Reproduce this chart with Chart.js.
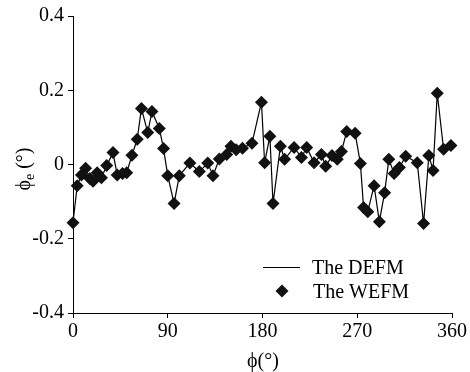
<!DOCTYPE html>
<html>
<head>
<meta charset="utf-8">
<script src="https://cdn.jsdelivr.net/npm/chart.js@4.4.1/dist/chart.umd.min.js"></script>
<style>
  html, body { margin: 0; background: #fff; }
  #wrap { width: 470px; height: 372px; }
</style>
</head>
<body>
<div id="wrap"><canvas id="chart"></canvas></div>
<script>
// angle phi (deg) and error phi_e (deg)
const angles = [0, 4, 8, 12, 16, 19, 23, 27, 32, 38, 42, 47, 51, 56, 61, 65, 71, 75, 82, 86,
  90, 96, 101, 111, 120, 128, 133, 139, 146, 150, 155, 161, 170, 179, 182, 187, 190, 197, 201,
  210, 217, 222, 229, 236, 240, 246, 251, 255, 260, 268, 273, 276, 280, 286, 291, 296, 300,
  305, 310, 316, 327, 333, 338, 342, 346, 352, 359];
const wefm = [-0.157, -0.057, -0.028, -0.01, -0.038, -0.045, -0.022, -0.036, -0.003, 0.032, -0.028,
  -0.024, -0.022, 0.025, 0.068, 0.151, 0.086, 0.143, 0.097, 0.043,
  -0.03, -0.105, -0.03, 0.004, -0.019, 0.004, -0.03, 0.015, 0.027, 0.049, 0.04, 0.044, 0.057,
  0.168, 0.005, 0.076, -0.105, 0.049, 0.014,
  0.046, 0.019, 0.046, 0.005, 0.027, -0.005, 0.024, 0.014, 0.035, 0.089, 0.084, 0.003, -0.116,
  -0.127, -0.057, -0.154, -0.076, 0.014,
  -0.024, -0.008, 0.022, 0.005, -0.159, 0.024, -0.016, 0.192, 0.041, 0.051];
const defm = wefm.slice();

const xTicks = [0, 90, 180, 270, 360];
const yTicks = [-0.4, -0.2, 0, 0.2, 0.4];

const serif = '"Liberation Serif", "Times New Roman", serif';

const toPoints = (ys) => angles.map((a, i) => ({ x: a, y: ys[i] }));

const textPlugin = {
  id: 'textPlugin',
  afterDraw(chart) {
    const c = chart.ctx;
    c.save();
    c.fillStyle = '#000';
    c.strokeStyle = '#000';

    // x title
    c.font = '20px ' + serif;
    c.textAlign = 'center';
    c.textBaseline = 'alphabetic';
    c.fillText('\u03D5(\u00B0)', 263, 367);

    // y title with subscript
    c.save();
    c.translate(30, 169);
    c.rotate(-Math.PI / 2);
    c.textAlign = 'left';
    const big = '20px ' + serif, small = '14px ' + serif;
    c.font = big;
    const w1 = c.measureText('\u03D5').width;
    const w3 = c.measureText(' (\u00B0)').width;
    c.font = small;
    const w2 = c.measureText('e').width;
    let x = -(w1 + w2 + w3) / 2;
    c.font = big;
    c.fillText('\u03D5', x, 0);
    x += w1;
    c.font = small;
    c.fillText('e', x, 4);
    x += w2;
    c.font = big;
    c.fillText(' (\u00B0)', x, 0);
    c.restore();

    // legend
    c.font = '20px ' + serif;
    c.textAlign = 'left';
    c.lineWidth = 1.2;
    c.beginPath();
    c.moveTo(263, 267.5);
    c.lineTo(300, 267.5);
    c.stroke();
    c.fillText('The DEFM', 312, 274);
    const r = 6.5, cx = 282, cy = 291;
    c.fillStyle = '#111';
    c.beginPath();
    c.moveTo(cx - r, cy);
    c.lineTo(cx, cy - r);
    c.lineTo(cx + r, cy);
    c.lineTo(cx, cy + r);
    c.closePath();
    c.fill();
    c.fillStyle = '#000';
    c.fillText('The WEFM', 313, 298);
    c.restore();
  }
};

new Chart(document.getElementById('chart'), {
  type: 'scatter',
  data: {
    datasets: [
      {
        label: 'The DEFM',
        data: toPoints(defm),
        showLine: true,
        borderColor: '#000',
        borderWidth: 1.2,
        pointRadius: 0,
        tension: 0,
        clip: false,
        order: 2
      },
      {
        label: 'The WEFM',
        data: toPoints(wefm),
        showLine: false,
        pointStyle: 'rectRot',
        pointRadius: 6.5,
        backgroundColor: '#111',
        borderColor: '#111',
        borderWidth: 0,
        clip: false,
        order: 1
      }
    ]
  },
  options: {
    responsive: true,
    maintainAspectRatio: false,
    animation: false,
    layout: { padding: { top: 16, right: 18, bottom: 0, left: 0 } },
    plugins: {
      legend: { display: false },
      tooltip: { enabled: false }
    },
    scales: {
      x: {
        type: 'linear',
        min: 0,
        max: 360,
        afterBuildTicks: (s) => { s.ticks = xTicks.map(v => ({ value: v })); },
        afterFit: (s) => { s.height = 59; },
        ticks: { color: '#000', font: { family: serif, size: 20 }, padding: 2, maxRotation: 0 },
        grid: { display: true, drawOnChartArea: false, drawTicks: true, tickLength: 5, color: '#000' },
        border: { color: '#000', width: 1 }
      },
      y: {
        min: -0.4,
        max: 0.4,
        afterBuildTicks: (s) => { s.ticks = yTicks.map(v => ({ value: v })); },
        afterFit: (s) => { s.width = 73; },
        ticks: {
          color: '#000',
          font: { family: serif, size: 20 },
          padding: 4,
          callback: (v) => (Math.abs(v) < 1e-9 ? '0' : v.toFixed(1))
        },
        grid: { display: true, drawOnChartArea: false, drawTicks: true, tickLength: 5, color: '#000' },
        border: { color: '#000', width: 1 }
      }
    }
  },
  plugins: [textPlugin]
});
</script>
</body>
</html>
